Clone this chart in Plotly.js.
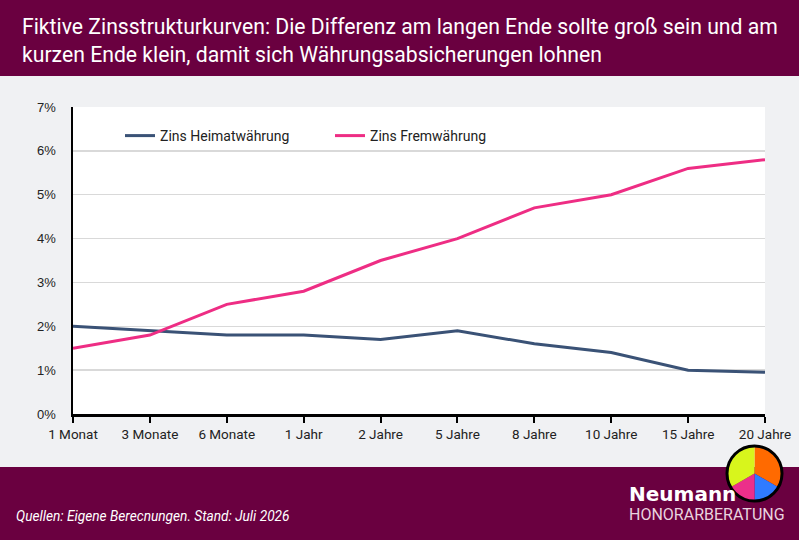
<!DOCTYPE html>
<html>
<head>
<meta charset="utf-8">
<script src="https://cdn.plot.ly/plotly-3.0.1.min.js"></script>
<style>html,body{margin:0;padding:0;background:#F0F1F3;}#chart{width:799px;height:540px;}</style>
</head>
<body>
<div id="chart"></div>
<script>
const categories = ["1 Monat","3 Monate","6 Monate","1 Jahr","2 Jahre","5 Jahre","8 Jahre","10 Jahre","15 Jahre","20 Jahre"];
const zinsHeimat = [2.0, 1.9, 1.8, 1.8, 1.7, 1.9, 1.6, 1.4, 1.0, 0.95];
const zinsFremd  = [1.5, 1.8, 2.5, 2.8, 3.5, 4.0, 4.7, 5.0, 5.6, 5.8];
const seriesNames = ["Zins Heimatwährung", "Zins Fremwährung"];
const yTickVals = [0,1,2,3,4,5,6,7];
const yTickText = ["0%","1%","2%","3%","4%","5%","6%","7%"];
const logoValues = [120, 60, 60, 120];
const logoColors = ["#FF6A00", "#2F7BFF", "#EC2F8A", "#D8F51C"];

const W = 799, H = 540;
const px = x => x / W;
const py = y => 1 - y / H;

const FONT = "Roboto, 'Liberation Sans', sans-serif";
const maroon = "#6A0040";

const xIdx = categories.map((c, i) => i);

const traces = [
  {x: xIdx, y: zinsHeimat, type: "scatter", mode: "lines", name: seriesNames[0],
   line: {color: "#3A5276", width: 3}},
  {x: xIdx, y: zinsFremd, type: "scatter", mode: "lines", name: seriesNames[1],
   line: {color: "#EE2D84", width: 3}},
  {type: "pie", values: logoValues, marker: {colors: logoColors, line: {width: 0}},
   sort: false, direction: "clockwise", rotation: 0, textinfo: "none", hoverinfo: "skip",
   showlegend: false, domain: {x: [px(727), px(782)], y: [py(501), py(446)]}}
];

const layout = {
  width: W, height: H,
  margin: {l: 0, r: 0, t: 0, b: 0},
  paper_bgcolor: "#F0F1F3",
  plot_bgcolor: "#FFFFFF",
  font: {family: FONT, size: 13, color: "#222222"},
  title: {
    text: "Fiktive Zinsstrukturkurven: Die Differenz am langen Ende sollte groß sein und am<br>kurzen Ende klein, damit sich Währungsabsicherungen lohnen",
    font: {family: FONT, size: 21.2, color: "#FFFFFF"},
    xref: "container", yref: "container", x: 22 / W, xanchor: "left",
    y: 1 - 34 / H, yanchor: "middle"
  },
  xaxis: {
    domain: [px(73), px(765)], range: [0, 9],
    tickvals: xIdx, ticktext: categories,
    showgrid: false, zeroline: false,
    showline: true, linecolor: "#000000", linewidth: 2.5,
    ticks: "outside", ticklen: 6, tickwidth: 2, tickcolor: "#000000",
    tickfont: {family: FONT, size: 13.5, color: "#222222"},
    fixedrange: true
  },
  yaxis: {
    domain: [py(414), py(107)], range: [0, 7],
    tickvals: yTickVals, ticktext: yTickText,
    showgrid: true, gridcolor: "#D9D9D9", gridwidth: 1.5,
    zeroline: false,
    showline: true, linecolor: "#000000", linewidth: 2.5,
    ticks: "", ticklabelstandoff: 12,
    tickfont: {family: "'Liberation Sans', Arial, sans-serif", size: 13, color: "#222222"},
    fixedrange: true
  },
  legend: {
    orientation: "h", x: px(120), xanchor: "left", y: py(136), yanchor: "middle",
    bgcolor: "rgba(0,0,0,0)", font: {family: FONT, size: 14, color: "#222222"},
    entrywidth: 165, entrywidthmode: "pixels"
  },
  shapes: [
    {type: "rect", xref: "paper", yref: "paper", x0: 0, x1: 1, y0: py(76), y1: 1,
     fillcolor: maroon, line: {width: 0}, layer: "below"},
    {type: "rect", xref: "paper", yref: "paper", x0: 0, x1: 1, y0: 0, y1: py(467),
     fillcolor: maroon, line: {width: 0}, layer: "below"},
    {type: "circle", xref: "paper", yref: "paper", x0: px(727), x1: px(782), y0: py(501), y1: py(446),
     fillcolor: "rgba(0,0,0,0)", line: {color: "#000000", width: 3}, layer: "above"}
  ],
  annotations: [
    {text: "<i>Quellen: Eigene Berecnungen. Stand: Juli 2026</i>", xref: "paper", yref: "paper",
     x: px(14), y: py(516), xanchor: "left", yanchor: "middle", showarrow: false,
     font: {family: FONT, size: 13.7, color: "#FFFFFF"}},
    {text: "<b>Neumann</b>", xref: "paper", yref: "paper",
     x: px(627), y: py(494), xanchor: "left", yanchor: "middle", showarrow: false,
     font: {family: "'DejaVu Sans', sans-serif", size: 20, color: "#FFFFFF"}},
    {text: "HONORARBERATUNG", xref: "paper", yref: "paper",
     x: px(627), y: py(514), xanchor: "left", yanchor: "middle", showarrow: false,
     font: {family: FONT, size: 16, color: "#E9D3DF"}}
  ],
  showlegend: true,
  hovermode: false
};

Plotly.newPlot("chart", traces, layout, {displayModeBar: false, staticPlot: true});
</script>
</body>
</html>
